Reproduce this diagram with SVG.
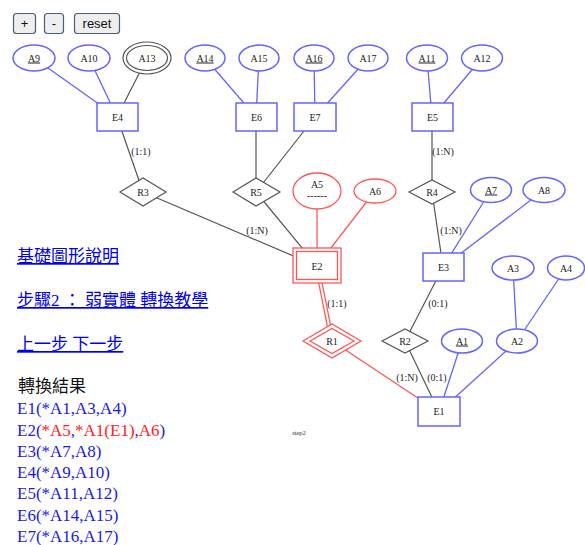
<svg xmlns="http://www.w3.org/2000/svg" width="585" height="545" viewBox="0 0 585 545">
<style>
.bl{stroke:#6464ff;stroke-width:1.3;fill:none}
.gr{stroke:#555;stroke-width:1.2;fill:none}
.rd{stroke:#ff5555;stroke-width:1.3;fill:none}
.att{fill:#fff;stroke:#6464ff;stroke-width:1.5}
.ent{fill:#fff;stroke:#6464ff;stroke-width:1.5}
.rel{fill:#fff;stroke:#555;stroke-width:1.2}
.wk{fill:#fff;stroke:#ff5555;stroke-width:1.3}
.t{font-family:"Liberation Serif",serif;font-size:10px;fill:#222;text-anchor:middle}
.u{text-decoration:underline}
.lk{font-family:"Liberation Serif","Noto Sans CJK TC",serif;font-size:17px;fill:#0000ee;text-decoration:underline}
.res{font-family:"Liberation Serif",serif;font-size:17px;fill:#1a1ae6}
.btn{fill:#eeeeee;stroke:#4a6078;stroke-width:1.2}
.bt{font-family:"Liberation Sans",sans-serif;font-size:13px;fill:#111;text-anchor:middle}
</style>
<g id="buttons">
<rect class="btn" x="13.5" y="13.5" width="22" height="20" rx="3"/>
<text class="bt" x="24.5" y="28">+</text>
<rect class="btn" x="44.5" y="13.5" width="19" height="20" rx="3"/>
<text class="bt" x="54" y="28">-</text>
<rect class="btn" x="74.5" y="13.5" width="45" height="20" rx="3"/>
<text class="bt" x="97" y="28">reset</text>
</g>
<g id="connectors">
<line class="bl" x1="34" y1="58" x2="117" y2="117"/>
<line class="bl" x1="89" y1="58" x2="117" y2="117"/>
<line class="gr" x1="147" y1="58" x2="117" y2="117"/>
<line class="bl" x1="205" y1="58" x2="256" y2="117"/>
<line class="bl" x1="259" y1="58" x2="256" y2="117"/>
<line class="bl" x1="314" y1="58" x2="315" y2="117"/>
<line class="bl" x1="368" y1="58" x2="315" y2="117"/>
<line class="bl" x1="427" y1="58" x2="432" y2="117"/>
<line class="bl" x1="482" y1="58" x2="432" y2="117"/>
<line class="gr" x1="117" y1="117" x2="143" y2="192"/>
<line class="gr" x1="143" y1="192" x2="317" y2="266"/>
<line class="gr" x1="256" y1="117" x2="256" y2="192"/>
<line class="gr" x1="315" y1="117" x2="256" y2="192"/>
<line class="gr" x1="256" y1="192" x2="317" y2="266"/>
<line class="rd" x1="317" y1="191" x2="317" y2="266"/>
<line class="rd" x1="375" y1="191" x2="317" y2="266"/>
<line class="gr" x1="432" y1="117" x2="432" y2="192"/>
<line class="gr" x1="432" y1="192" x2="443" y2="267"/>
<line class="bl" x1="491" y1="190" x2="443" y2="267"/>
<line class="bl" x1="544" y1="190" x2="443" y2="267"/>
<line x1="317" y1="266" x2="332" y2="341" stroke="#ff5555" stroke-width="4.5"/>
<line x1="317" y1="266" x2="332" y2="341" stroke="#fff" stroke-width="2"/>
<line class="gr" x1="443" y1="267" x2="405" y2="341"/>
<line class="gr" x1="405" y1="341" x2="439" y2="412"/>
<line class="rd" x1="332" y1="341" x2="439" y2="412"/>
<line class="bl" x1="462" y1="341" x2="439" y2="412"/>
<line class="bl" x1="517" y1="341" x2="439" y2="412"/>
<line class="bl" x1="513" y1="268" x2="517" y2="341"/>
<line class="bl" x1="566" y1="268" x2="517" y2="341"/>
<text class="t" x="141" y="155">(1:1)</text>
<text class="t" x="257" y="234">(1:N)</text>
<text class="t" x="443" y="155">(1:N)</text>
<text class="t" x="451" y="234">(1:N)</text>
<text class="t" x="337" y="307">(1:1)</text>
<text class="t" x="438" y="307">(0:1)</text>
<text class="t" x="407" y="381">(1:N)</text>
<text class="t" x="437" y="381">(0:1)</text>
</g>
<g id="A9"><ellipse class="att" cx="34" cy="58" rx="21" ry="13"/><text class="t u" x="34" y="61.5">A9</text></g>
<g id="A10"><ellipse class="att" cx="89" cy="58" rx="21" ry="13"/><text class="t" x="89" y="61.5">A10</text></g>
<g id="A13"><ellipse cx="147" cy="58" rx="24" ry="16" fill="#fff" stroke="#555" stroke-width="1.2"/><ellipse cx="147" cy="58" rx="20.5" ry="12.5" fill="none" stroke="#555" stroke-width="1.2"/><text class="t" x="147" y="61.5">A13</text></g>
<g id="A14"><ellipse class="att" cx="205" cy="58" rx="20" ry="13"/><text class="t u" x="205" y="61.5">A14</text></g>
<g id="A15"><ellipse class="att" cx="259" cy="58" rx="20" ry="13"/><text class="t" x="259" y="61.5">A15</text></g>
<g id="A16"><ellipse class="att" cx="314" cy="58" rx="20" ry="13"/><text class="t u" x="314" y="61.5">A16</text></g>
<g id="A17"><ellipse class="att" cx="368" cy="58" rx="20" ry="13"/><text class="t" x="368" y="61.5">A17</text></g>
<g id="A11"><ellipse class="att" cx="427" cy="58" rx="20.5" ry="13"/><text class="t u" x="427" y="61.5">A11</text></g>
<g id="A12"><ellipse class="att" cx="482" cy="58" rx="20.5" ry="13"/><text class="t" x="482" y="61.5">A12</text></g>
<g id="E4"><rect class="ent" x="97" y="103" width="41" height="28"/><text class="t" x="117.5" y="120.5">E4</text></g>
<g id="E6"><rect class="ent" x="236" y="103" width="41" height="28"/><text class="t" x="256.5" y="120.5">E6</text></g>
<g id="E7"><rect class="ent" x="294" y="103" width="42" height="28"/><text class="t" x="315" y="120.5">E7</text></g>
<g id="E5"><rect class="ent" x="412" y="103" width="41" height="28"/><text class="t" x="432.5" y="120.5">E5</text></g>
<g id="R3"><polygon class="rel" points="120,192 143,178 166,192 143,206"/><text class="t" x="143" y="195.5">R3</text></g>
<g id="R5"><polygon class="rel" points="233,192 256,178 280,192 256,206"/><text class="t" x="256" y="195.5">R5</text></g>
<g id="R4"><polygon class="rel" points="409,192 432,180 455,192 432,204"/><text class="t" x="432" y="195.5">R4</text></g>
<g id="A5"><ellipse class="wk" cx="317" cy="191" rx="24" ry="18"/><text class="t" x="317" y="188">A5</text><text class="t" x="317" y="199" font-size="8">------</text></g>
<g id="A6"><ellipse class="wk" cx="375" cy="191" rx="21" ry="12"/><text class="t" x="375" y="194.5">A6</text></g>
<g id="A7"><ellipse class="att" cx="491" cy="190" rx="20.5" ry="12.5"/><text class="t u" x="491" y="193.5">A7</text></g>
<g id="A8"><ellipse class="att" cx="544" cy="190" rx="21" ry="12.5"/><text class="t" x="544" y="193.5">A8</text></g>
<g id="E2"><rect class="wk" x="293" y="248" width="48" height="35"/><rect x="296.5" y="251.5" width="41" height="28" fill="none" stroke="#ff5555" stroke-width="1.3"/><text class="t" x="317" y="269.5">E2</text></g>
<g id="E3"><rect class="ent" x="423" y="253" width="41" height="28"/><text class="t" x="443.5" y="270.5">E3</text></g>
<g id="A3"><ellipse class="att" cx="513" cy="268" rx="21" ry="12"/><text class="t" x="513" y="271.5">A3</text></g>
<g id="A4"><ellipse class="att" cx="566" cy="268" rx="18.5" ry="12"/><text class="t" x="566" y="271.5">A4</text></g>
<g id="R1"><polygon class="wk" points="303,341 332,324 361,341 332,358"/><polygon points="310,341 332,328.5 354,341 332,353.5" fill="none" stroke="#ff5555" stroke-width="1.3"/><text class="t" x="332" y="344.5">R1</text></g>
<g id="R2"><polygon class="rel" points="382,341 405,329 428,341 405,353"/><text class="t" x="405" y="344.5">R2</text></g>
<g id="A1"><ellipse class="att" cx="462" cy="341" rx="20.5" ry="12"/><text class="t u" x="462" y="344.5">A1</text></g>
<g id="A2"><ellipse class="att" cx="517" cy="341" rx="20.5" ry="12"/><text class="t" x="517" y="344.5">A2</text></g>
<g id="E1"><rect class="ent" x="418" y="397" width="42" height="29"/><text class="t" x="439" y="415">E1</text></g>
<text x="299" y="435" font-family="Liberation Serif,serif" font-size="6.5" fill="#333" text-anchor="middle">step2</text>
<g id="links">
<text class="lk" x="17" y="262">基礎圖形說明</text>
<text class="lk" x="17" y="306">步驟2 ： 弱實體 轉換教學</text>
<text class="lk" x="17" y="350">上一步 下一步</text>
</g>
<g id="result">
<text x="18" y="392" font-family="Liberation Serif,'Noto Sans CJK TC',serif" font-size="17" fill="#111">轉換結果</text>
<text class="res" x="17" y="414">E1(*A1,A3,A4)</text>
<text class="res" x="17" y="436">E2(<tspan fill="#ff2020">*A5</tspan>,<tspan fill="#ff2020">*A1(E1)</tspan>,<tspan fill="#ff2020">A6</tspan>)</text>
<text class="res" x="17" y="457">E3(*A7,A8)</text>
<text class="res" x="17" y="478">E4(*A9,A10)</text>
<text class="res" x="17" y="499">E5(*A11,A12)</text>
<text class="res" x="17" y="521">E6(*A14,A15)</text>
<text class="res" x="17" y="542">E7(*A16,A17)</text>
</g>
</svg>
